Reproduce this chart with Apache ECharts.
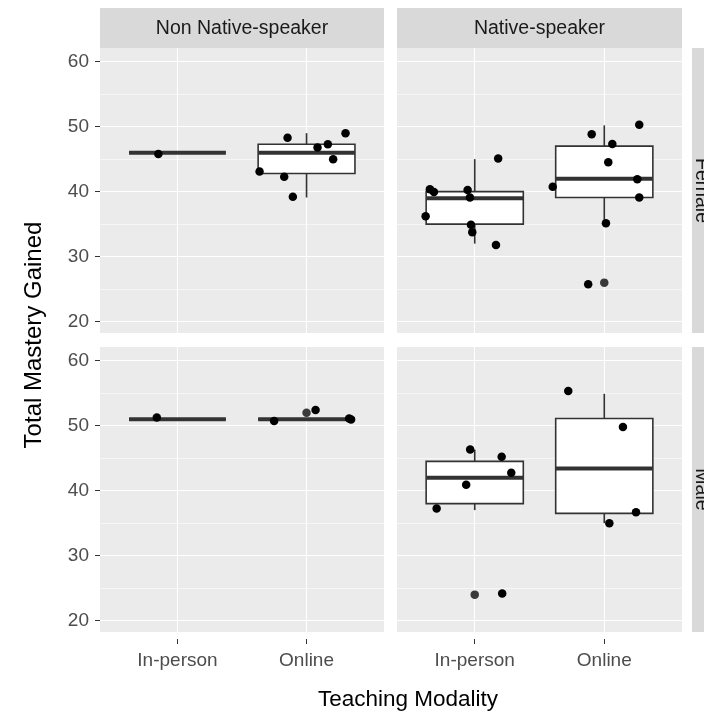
<!DOCTYPE html>
<html>
<head>
<meta charset="utf-8">
<title>Total Mastery Gained</title>
<style>
    html, body { margin: 0; padding: 0; background: #fff; }
    #main { width: 704px; height: 714px; }
</style>
</head>
<body>
<div id="main"></div>
<script src="https://cdn.jsdelivr.net/npm/echarts@6/dist/echarts.min.js"></script>
<script>
    // categories / facets
    var modalities = ['In-person', 'Online'];
    var speakers = ['Non Native-speaker', 'Native-speaker'];
    var genders = ['Female', 'Male'];
    var yTicks = [20, 30, 40, 50, 60];
    var yMinorTicks = [25, 35, 45, 55];

    // box stats: [modality index, lower whisker, Q1, median, Q3, upper whisker]
    var boxNonNativeFemale = [[1, 46, 46, 46, 46, 46], [2, 39.1, 42.8, 46.0, 47.3, 49.0]];
    var boxNativeFemale = [[1, 32.0, 35.0, 39.0, 40.0, 45.0], [2, 35.1, 39.1, 42.0, 47.0, 50.2]];
    var boxNonNativeMale = [[1, 51, 51, 51, 51, 51], [2, 51, 51, 51, 51, 51]];
    var boxNativeMale = [[1, 37.0, 38.0, 42.0, 44.5, 46.3], [2, 35.0, 36.5, 43.4, 51.1, 54.9]];

    // boxplot outliers
    var outNonNativeFemale = [];
    var outNativeFemale = [[2, 26]];
    var outNonNativeMale = [[2, 52]];
    var outNativeMale = [[1, 24]];

    // jittered points [x (modality + jitter), score]
    var ptsNonNativeFemale = [
        [0.852, 45.8],
        [1.853, 48.3], [2.302, 49.0], [2.165, 47.3], [2.085, 46.8],
        [2.206, 45.0], [1.636, 43.1], [1.827, 42.3], [1.894, 39.2]
    ];
    var ptsNativeFemale = [
        [0.654, 40.35], [0.685, 39.95], [0.945, 40.26], [0.963, 39.08], [0.621, 36.2],
        [0.971, 34.9], [0.981, 33.74], [1.164, 31.8], [1.181, 45.1],
        [2.270, 50.3], [1.903, 48.83], [2.062, 47.34], [2.031, 44.52], [2.255, 41.9],
        [1.602, 40.77], [2.270, 39.08], [2.013, 35.14], [1.876, 25.75]
    ];
    var ptsNonNativeMale = [
        [0.84, 51.27],
        [1.749, 50.7], [2.07, 52.4], [2.33, 51.1], [2.345, 50.95]
    ];
    var ptsNativeMale = [
        [0.965, 46.32], [1.208, 45.2], [1.282, 42.74], [0.934, 40.9], [0.706, 37.27], [1.212, 24.18],
        [1.722, 55.32], [2.144, 49.8], [2.245, 36.66], [2.039, 34.97]
    ];

    var FONT = '"Liberation Sans", Arial, sans-serif';
    var BOX_HALF = 0.375;
    var colLeft = [100, 397], colWidth = [284, 285];
    var rowTop = [48, 347], rowHeight = 285;

    var panels = [
        {row: 0, col: 0, box: boxNonNativeFemale, out: outNonNativeFemale, pts: ptsNonNativeFemale},
        {row: 0, col: 1, box: boxNativeFemale, out: outNativeFemale, pts: ptsNativeFemale},
        {row: 1, col: 0, box: boxNonNativeMale, out: outNonNativeMale, pts: ptsNonNativeMale},
        {row: 1, col: 1, box: boxNativeMale, out: outNativeMale, pts: ptsNativeMale}
    ];

    function renderBox(params, api) {
        var x = api.value(0);
        var lo = api.value(1), q1 = api.value(2), med = api.value(3), q3 = api.value(4), hi = api.value(5);
        var pLo = api.coord([x, lo]), pHi = api.coord([x, hi]);
        var tl = api.coord([x - BOX_HALF, q3]), br = api.coord([x + BOX_HALF, q1]);
        var mL = api.coord([x - BOX_HALF, med]), mR = api.coord([x + BOX_HALF, med]);
        var line = {stroke: '#333333', lineWidth: 1.6};
        return {
            type: 'group',
            children: [
                {type: 'line', shape: {x1: pHi[0], y1: pHi[1], x2: pHi[0], y2: tl[1]}, style: line},
                {type: 'line', shape: {x1: pLo[0], y1: br[1], x2: pLo[0], y2: pLo[1]}, style: line},
                {type: 'rect', shape: {x: tl[0], y: tl[1], width: br[0] - tl[0], height: br[1] - tl[1]},
                    style: {fill: '#ffffff', stroke: '#333333', lineWidth: 1.6}},
                {type: 'line', shape: {x1: mL[0], y1: mL[1], x2: mR[0], y2: mR[1]},
                    style: {stroke: '#333333', lineWidth: 4}}
            ]
        };
    }

    var grids = [], xAxes = [], yAxes = [], series = [];
    panels.forEach(function (p, i) {
        grids.push({
            left: colLeft[p.col], top: rowTop[p.row], width: colWidth[p.col], height: rowHeight,
            show: true, backgroundColor: '#EBEBEB', borderWidth: 0, outerBoundsMode: 'none'
        });
        xAxes.push({
            gridIndex: i, type: 'value', min: 0.4, max: 2.6, offset: 7,
            axisLine: {show: false},
            axisTick: {show: p.row === 1, length: 5, customValues: [1, 2], lineStyle: {color: '#333333', width: 1}},
            axisLabel: {
                show: p.row === 1, customValues: [1, 2], margin: 12,
                color: '#4D4D4D', fontSize: 19, fontFamily: FONT,
                formatter: function (v) { return modalities[Math.round(v) - 1]; }
            },
            splitLine: {show: true, lineStyle: {color: '#ffffff', width: 1.1}}
        });
        yAxes.push({
            gridIndex: i, type: 'value', min: 18.25, max: 62.1,
            axisLine: {show: false},
            axisTick: {show: p.col === 0, length: 5, customValues: yTicks, lineStyle: {color: '#333333', width: 1}},
            axisLabel: {show: p.col === 0, customValues: yTicks, margin: 11, color: '#4D4D4D', fontSize: 19, fontFamily: FONT},
            splitLine: {show: true, lineStyle: {color: '#ffffff', width: 1.1}}
        });
        yAxes.push({
            gridIndex: i, type: 'value', min: 18.25, max: 62.1, position: 'left',
            axisLine: {show: false},
            axisTick: {show: false, customValues: yMinorTicks},
            axisLabel: {show: false},
            splitLine: {show: true, lineStyle: {color: '#ffffff', width: 0.55}}
        });
        series.push({
            type: 'custom', xAxisIndex: i, yAxisIndex: 2 * i, z: 2,
            renderItem: renderBox, encode: {x: 0, y: [1, 2, 3, 4, 5]}, data: p.box, silent: true
        });
        series.push({
            type: 'scatter', xAxisIndex: i, yAxisIndex: 2 * i, z: 3,
            symbolSize: 8.5, itemStyle: {color: '#3a3a3a', opacity: 1}, data: p.out, silent: true
        });
        series.push({
            type: 'scatter', xAxisIndex: i, yAxisIndex: 2 * i, z: 4,
            symbolSize: 8.5, itemStyle: {color: '#000000', opacity: 1}, data: p.pts, silent: true
        });
    });

    function label(txt, x, y, size, color, rot) {
        return {
            type: 'text', x: x, y: y, rotation: rot || 0, z: 10,
            style: {
                text: txt, fontSize: size, fontFamily: FONT, fill: color,
                align: 'center', verticalAlign: 'middle', textAlign: 'center', textVerticalAlign: 'middle'
            }
        };
    }

    var graphics = [];
    speakers.forEach(function (s, c) {
        graphics.push({type: 'rect', shape: {x: colLeft[c], y: 8, width: colWidth[c], height: 40}, style: {fill: '#D9D9D9'}});
        graphics.push(label(s, colLeft[c] + colWidth[c] / 2, 29, 19.5, '#1A1A1A'));
    });
    genders.forEach(function (g, r) {
        graphics.push({type: 'rect', shape: {x: 692, y: rowTop[r], width: 24, height: rowHeight}, style: {fill: '#D9D9D9'}});
        graphics.push(label(g, 701, rowTop[r] + rowHeight / 2, 19.5, '#1A1A1A', -Math.PI / 2));
    });
    graphics.push(label('Total Mastery Gained', 34, 335, 24, '#000000', Math.PI / 2));
    graphics.push(label('Teaching Modality', 408, 700, 22.5, '#000000'));

    var chart = echarts.init(document.getElementById('main'));
    chart.setOption({
        animation: false,
        backgroundColor: '#ffffff',
        grid: grids,
        xAxis: xAxes,
        yAxis: yAxes,
        series: series,
        graphic: graphics
    });
</script>
</body>
</html>
